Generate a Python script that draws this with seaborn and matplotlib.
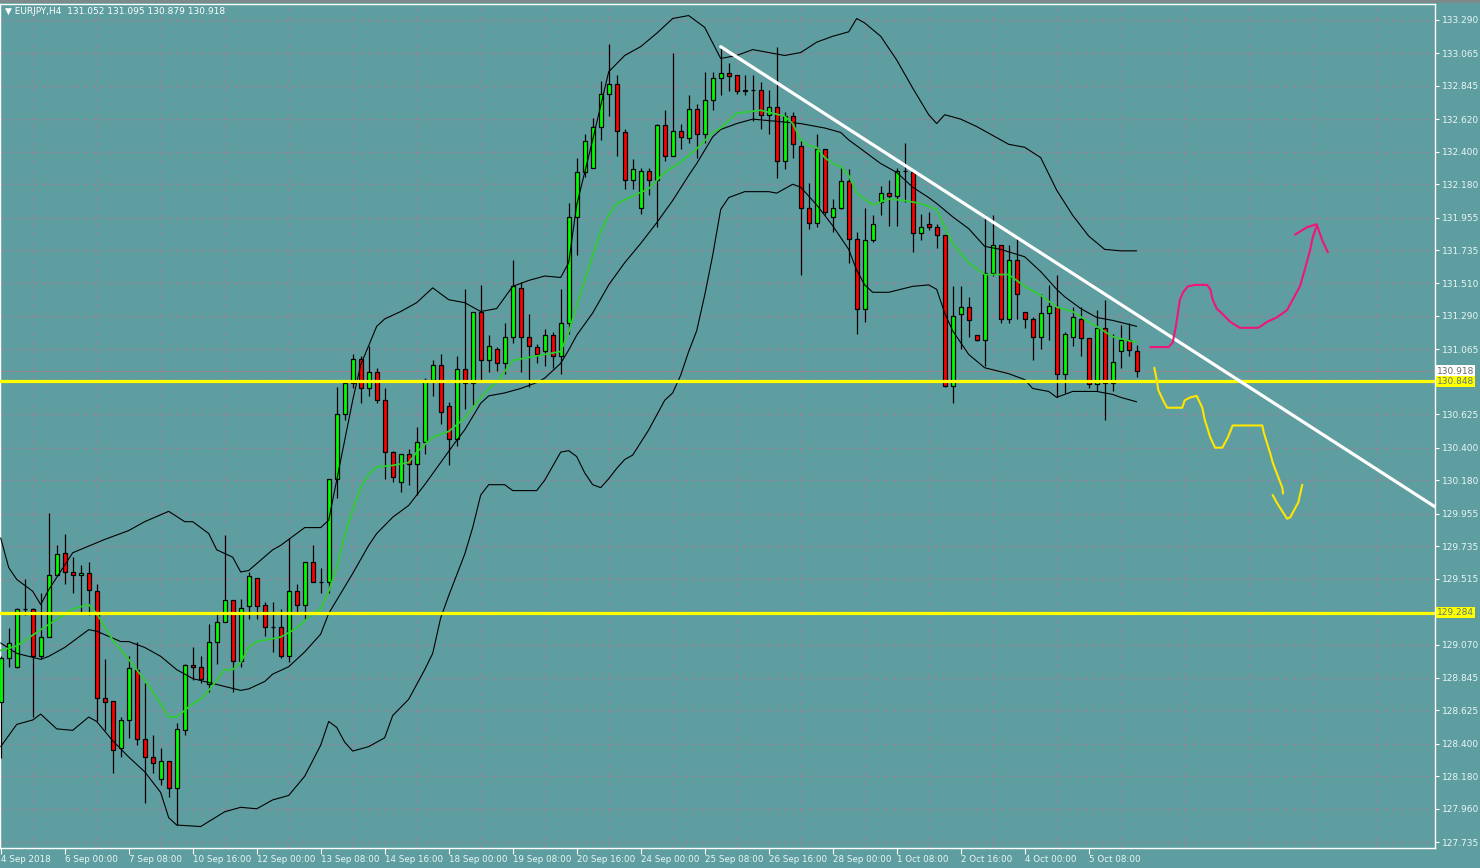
import numpy as np
import pandas as pd
import matplotlib
matplotlib.use("Agg")
import matplotlib.pyplot as plt
import matplotlib.transforms as mtransforms
from matplotlib.patches import Rectangle
import seaborn as sns

# EURJPY H4 candles, bar 0 = 4 Sep 2018 16:00
opens = [128.68, 128.98, 128.92, 129.31, 129.31, 128.99, 129.12, 129.54, 129.69, 129.56,
         129.54, 129.55, 129.43, 128.71, 128.69, 128.37, 128.56, 128.90, 128.43, 128.31,
         128.16, 128.28, 128.10, 128.49, 128.93, 128.92, 128.80, 129.09, 129.22, 129.37,
         128.96, 129.33, 129.52, 129.34, 129.19, 129.19, 128.99, 129.43, 129.34, 129.63,
         129.49, 129.49, 130.19, 130.63, 130.84, 131.00, 130.80, 130.91, 130.72, 130.37,
         130.17, 130.36, 130.29, 130.44, 130.86, 130.96, 130.68, 130.46, 130.93, 130.84,
         131.32, 130.99, 131.07, 130.97, 131.15, 131.48, 131.15, 131.08, 131.05, 131.16,
         131.02, 131.24, 131.96, 132.26, 132.29, 132.57, 132.79, 132.86, 132.53, 132.21,
         132.02, 132.27, 132.21, 132.58, 132.37, 132.54, 132.49, 132.69, 132.52, 132.75,
         132.90, 132.93, 132.92, 132.81, 132.82, 132.82, 132.65, 132.70, 132.34, 132.64,
         132.44, 132.02, 131.92, 132.42, 131.96, 132.02, 132.20, 131.81, 131.34, 131.80,
         132.06, 132.12, 132.10, 132.27, 132.26, 131.85, 131.91, 131.89, 131.84, 130.82,
         131.30, 131.35, 131.16, 131.13, 131.58, 131.77, 131.27, 131.67, 131.32, 131.27,
         131.15, 131.31, 131.35, 130.90, 131.15, 131.27, 131.14, 130.83, 131.21, 130.84,
         131.05, 131.13, 131.052]
highs = [128.99, 129.18, 129.32, 129.51, 129.32, 129.42, 129.96, 129.74, 129.82, 129.66,
         129.61, 129.63, 129.48, 128.97, 128.69, 128.58, 128.99, 129.09, 128.81, 128.46,
         128.37, 128.28, 128.54, 128.94, 129.05, 128.99, 129.21, 129.28, 129.81, 129.37,
         129.38, 129.56, 129.52, 129.36, 129.36, 129.31, 129.79, 129.48, 129.63, 129.74,
         129.59, 130.19, 130.81, 130.84, 131.03, 131.02, 131.09, 130.94, 130.80, 130.38,
         130.36, 130.39, 130.54, 130.87, 130.99, 131.03, 130.71, 131.02, 131.47, 131.32,
         131.50, 131.16, 131.08, 131.24, 131.67, 131.52, 131.30, 131.10, 131.20, 131.18,
         131.47, 132.05, 132.36, 132.52, 132.63, 132.88, 133.13, 132.92, 132.55, 132.35,
         132.29, 132.29, 132.59, 132.68, 133.07, 132.59, 132.78, 132.72, 132.94, 132.94,
         133.11, 133.00, 132.92, 132.92, 132.92, 132.87, 132.82, 133.11, 132.67, 132.67,
         132.48, 132.19, 132.52, 132.42, 132.08, 132.30, 132.28, 131.86, 132.02, 131.97,
         132.17, 132.21, 132.29, 132.46, 132.26, 131.98, 131.99, 131.91, 131.84, 131.49,
         131.49, 131.42, 131.16, 131.97, 131.97, 131.77, 131.77, 131.83, 131.32, 131.28,
         131.44, 131.50, 131.57, 131.18, 131.35, 131.35, 131.14, 131.33, 131.40, 131.17,
         131.23, 131.24, 131.095]
lows = [128.30, 128.92, 128.91, 129.27, 128.58, 128.97, 129.12, 129.54, 129.48, 129.42,
        129.29, 129.27, 128.55, 128.49, 128.20, 128.31, 128.44, 128.39, 128.00, 128.20,
        128.12, 128.04, 127.85, 128.46, 128.83, 128.81, 128.75, 128.94, 129.22, 128.75,
        128.92, 129.24, 129.24, 129.13, 129.02, 128.98, 128.95, 129.29, 129.24, 129.49,
        129.42, 129.42, 130.06, 130.59, 130.80, 130.70, 130.75, 130.70, 130.19, 130.17,
        130.10, 130.15, 130.08, 130.36, 130.75, 130.56, 130.28, 130.41, 130.66, 130.69,
        130.86, 130.91, 130.92, 130.90, 131.11, 130.91, 130.81, 130.97, 130.95, 130.94,
        130.90, 131.17, 131.70, 132.23, 132.29, 132.48, 132.64, 132.37, 132.15, 132.15,
        131.98, 132.11, 131.89, 132.34, 132.37, 132.42, 132.46, 132.36, 132.46, 132.68,
        132.78, 132.81, 132.79, 132.78, 132.61, 132.55, 132.52, 132.22, 132.28, 132.36,
        131.57, 131.88, 131.89, 131.97, 131.86, 132.01, 131.65, 131.17, 131.25, 131.79,
        131.97, 131.90, 131.90, 132.06, 131.72, 131.80, 131.87, 131.75, 130.81, 130.70,
        131.07, 131.15, 131.12, 130.95, 131.56, 131.24, 131.24, 131.27, 131.21, 130.99,
        131.07, 131.13, 130.74, 130.77, 131.09, 131.02, 130.80, 130.78, 130.59, 130.78,
        130.94, 131.02, 130.879]
closes = [128.98, 129.08, 129.31, 129.31, 128.99, 129.12, 129.54, 129.68, 129.56, 129.54,
          129.55, 129.44, 128.71, 128.68, 128.36, 128.56, 128.91, 128.43, 128.31, 128.27,
          128.28, 128.10, 128.50, 128.93, 128.92, 128.84, 129.09, 129.22, 129.37, 128.96,
          129.32, 129.53, 129.33, 129.19, 129.19, 128.99, 129.43, 129.34, 129.63, 129.49,
          129.49, 130.19, 130.63, 130.84, 131.00, 130.80, 130.91, 130.72, 130.37, 130.20,
          130.36, 130.29, 130.44, 130.86, 130.96, 130.64, 130.46, 130.93, 130.84, 131.32,
          130.99, 131.09, 130.97, 131.15, 131.49, 131.15, 131.09, 131.03, 131.16, 131.02,
          131.24, 131.96, 132.26, 132.47, 132.57, 132.79, 132.86, 132.54, 132.21, 132.28,
          132.27, 132.21, 132.58, 132.37, 132.54, 132.50, 132.69, 132.52, 132.75, 132.90,
          132.93, 132.91, 132.81, 132.82, 132.82, 132.65, 132.70, 132.34, 132.64, 132.45,
          132.02, 131.92, 132.42, 131.99, 132.02, 132.20, 131.81, 131.34, 131.80, 131.91,
          132.12, 132.10, 132.27, 132.27, 131.85, 131.89, 131.89, 131.84, 130.82, 131.29,
          131.35, 131.26, 131.13, 131.58, 131.77, 131.27, 131.67, 131.44, 131.27, 131.15,
          131.31, 131.36, 130.90, 131.17, 131.28, 131.14, 130.83, 131.21, 130.84, 130.98,
          131.13, 131.06, 130.918]

# Bollinger bands (outer, middle) and green moving average, read at bar positions
bb_upper_bar = [0, 1, 2, 4, 5, 6, 9, 13, 16, 18, 21, 23, 24, 26, 27, 29, 30, 31, 34, 35,
                38, 40, 41, 42, 43, 44, 45, 46, 47, 48, 50, 52, 54, 56, 58, 60, 62, 64, 66, 68,
                70, 71, 72, 74, 76, 78, 80, 82, 84, 86, 88, 90, 92, 94, 96, 98, 100, 102, 104, 106,
                107, 108, 110, 112, 114, 116, 117, 118, 120, 122, 124, 126, 128, 130, 132, 134, 136, 138, 140, 142]
bb_upper = [129.79, 129.59, 129.51, 129.43, 129.34, 129.44, 129.69, 129.78, 129.84, 129.90,
            129.97, 129.90, 129.90, 129.82, 129.71, 129.66, 129.56, 129.57, 129.71, 129.74,
            129.86, 129.86, 129.91, 130.18, 130.45, 130.72, 130.96, 131.09, 131.22, 131.27,
            131.32, 131.38, 131.48, 131.40, 131.38, 131.32, 131.34, 131.49, 131.53, 131.56,
            131.55, 131.65, 132.04, 132.48, 132.94, 133.05, 133.11, 133.20, 133.30, 133.32,
            133.24, 133.03, 133.05, 133.09, 133.07, 133.05, 133.07, 133.14, 133.18, 133.21,
            133.30, 133.27, 133.18, 133.02, 132.83, 132.65, 132.59, 132.65, 132.62, 132.57,
            132.51, 132.45, 132.43, 132.36, 132.14, 131.97, 131.83, 131.74, 131.73, 131.73]

bb_lower_bar = [0, 2, 4, 5, 7, 9, 11, 12, 14, 16, 18, 20, 21, 22, 25, 28, 30, 32, 34, 36,
                38, 40, 41, 42, 43, 44, 46, 48, 49, 51, 53, 54, 55, 56, 58, 59, 60, 61, 63, 64,
                67, 68, 70, 71, 72, 73, 74, 75, 76, 77, 78, 79, 81, 83, 84, 85, 86, 87, 88, 89,
                90, 91, 93, 96, 97, 99, 100, 101, 102, 104, 106, 107, 108, 109, 111, 114, 116, 117, 118, 119,
                121, 123, 126, 128, 129, 131, 132, 134, 137, 139, 140, 142]
bb_lower = [128.38, 128.53, 128.56, 128.60, 128.50, 128.49, 128.58, 128.55, 128.42, 128.31,
            128.21, 128.07, 127.90, 127.85, 127.84, 127.94, 127.97, 127.96, 128.02, 128.05,
            128.18, 128.39, 128.55, 128.51, 128.41, 128.35, 128.38, 128.44, 128.59, 128.70,
            128.90, 129.01, 129.25, 129.40, 129.68, 129.86, 130.08, 130.15, 130.15, 130.11,
            130.11, 130.18, 130.37, 130.38, 130.34, 130.23, 130.15, 130.13, 130.19, 130.26,
            130.32, 130.35, 130.52, 130.72, 130.77, 130.89, 131.05, 131.19, 131.43, 131.70,
            132.01, 132.09, 132.13, 132.13, 132.12, 132.18, 132.16, 132.10, 132.04, 131.90,
            131.74, 131.60, 131.50, 131.45, 131.45, 131.49, 131.50, 131.47, 131.31, 131.19,
            131.03, 130.94, 130.90, 130.86, 130.80, 130.78, 130.74, 130.78, 130.78, 130.76,
            130.74, 130.71]

bb_mid_bar = [0, 2, 5, 6, 8, 11, 12, 15, 16, 18, 20, 22, 24, 27, 30, 31, 33, 34, 36, 38,
              40, 41, 42, 44, 46, 47, 49, 51, 53, 55, 57, 58, 60, 61, 63, 65, 67, 68, 70, 71,
              72, 74, 76, 78, 80, 82, 84, 86, 87, 89, 90, 92, 94, 96, 98, 100, 103, 105, 106, 108,
              110, 112, 114, 116, 117, 119, 121, 123, 125, 128, 130, 132, 133, 135, 137, 139, 142]
bb_mid = [129.08, 129.01, 128.97, 128.99, 129.05, 129.17, 129.16, 129.09, 129.09, 129.05,
          128.99, 128.90, 128.84, 128.80, 128.76, 128.77, 128.82, 128.87, 128.92, 129.02,
          129.14, 129.28, 129.37, 129.55, 129.74, 129.82, 129.93, 130.01, 130.15, 130.30,
          130.45, 130.52, 130.70, 130.75, 130.77, 130.80, 130.84, 130.87, 130.97, 131.06,
          131.16, 131.31, 131.50, 131.65, 131.78, 131.92, 132.07, 132.24, 132.32, 132.50,
          132.55, 132.59, 132.62, 132.61, 132.60, 132.59, 132.56, 132.53, 132.48, 132.40,
          132.32, 132.26, 132.16, 132.09, 132.05, 131.96, 131.88, 131.76, 131.74, 131.69,
          131.59, 131.47, 131.42, 131.34, 131.28, 131.26, 131.22]

ma_bar = [0, 2, 5, 7, 9, 11, 12, 14, 16, 18, 20, 21, 22, 24, 25, 26, 28, 29, 30, 31,
          32, 34, 35, 37, 39, 40, 41, 42, 43, 44, 45, 46, 47, 49, 51, 52, 54, 56, 58, 59,
          61, 62, 64, 66, 70, 71, 72, 73, 74, 75, 76, 77, 79, 81, 83, 85, 87, 89, 90, 92,
          95, 98, 99, 100, 101, 102, 103, 104, 105, 106, 107, 109, 111, 113, 115, 117, 118, 119, 121, 123,
          126, 128, 130, 132, 134, 136, 137, 139, 142]
ma_green = [129.03, 129.06, 129.17, 129.24, 129.31, 129.34, 129.28, 129.10, 128.97, 128.83,
            128.67, 128.58, 128.58, 128.67, 128.70, 128.76, 128.90, 128.90, 128.95, 129.05,
            129.09, 129.11, 129.12, 129.18, 129.28, 129.31, 129.43, 129.59, 129.81, 129.98,
            130.13, 130.22, 130.27, 130.28, 130.30, 130.37, 130.47, 130.51, 130.60, 130.67,
            130.80, 130.84, 130.99, 131.01, 131.05, 131.18, 131.36, 131.53, 131.70, 131.86,
            131.97, 132.05, 132.10, 132.15, 132.26, 132.33, 132.42, 132.53, 132.56, 132.66,
            132.68, 132.64, 132.59, 132.48, 132.44, 132.43, 132.36, 132.32, 132.30, 132.24,
            132.12, 132.04, 132.08, 132.07, 132.05, 132.01, 131.89, 131.78, 131.65, 131.57,
            131.57, 131.49, 131.43, 131.35, 131.32, 131.25, 131.22, 131.15, 131.11]

# drawn objects
support_levels = [130.848, 129.284]
support_labels = ["130.848", "129.284"]
trend_bar = [90, 179.3]
trend_price = [133.11, 130.00]

pink_bar = [143.7, 146.0, 146.5, 146.9, 147.4, 147.8, 148.4, 149.3, 150.8, 151.2, 151.5, 152.0,
            152.8, 153.7, 154.9, 157.2, 158.3, 159.5, 160.8, 161.5, 162.4, 163.0, 163.7, 164.0, 164.5]
pink_price = [131.08, 131.08, 131.11, 131.22, 131.40, 131.45, 131.49, 131.50, 131.50, 131.47, 131.40, 131.34,
              131.30, 131.25, 131.21, 131.21, 131.25, 131.28, 131.33, 131.40, 131.49, 131.60, 131.74, 131.82, 131.90]
pink_head_bar = [161.8, 163.3, 164.5, 165.2, 165.9]
pink_head_price = [131.84, 131.89, 131.91, 131.80, 131.72]

yellow_bar = [144.2, 144.5, 144.7, 145.3, 145.8, 147.7, 148.0, 148.7, 149.5, 150.2, 150.5, 151.2,
              151.8, 152.7, 153.4, 154.0, 154.5, 157.7, 157.9, 158.7, 159.0, 159.7, 160.2, 160.3]
yellow_price = [130.94, 130.86, 130.79, 130.72, 130.67, 130.67, 130.72, 130.74, 130.75, 130.67, 130.59, 130.47,
                130.40, 130.40, 130.47, 130.55, 130.55, 130.55, 130.50, 130.36, 130.30, 130.20, 130.13, 130.09]
yellow2_bar = [159.0, 159.5, 160.2, 160.8, 161.2, 161.5, 162.2, 162.7]
yellow2_price = [130.08, 130.03, 129.97, 129.92, 129.93, 129.96, 130.03, 130.15]

ytick_labels = ["133.290", "133.065", "132.845", "132.620", "132.400", "132.180", "131.955",
                "131.735", "131.510", "131.290", "131.065", "130.845", "130.625", "130.400",
                "130.180", "129.955", "129.735", "129.515", "129.290", "129.070", "128.845",
                "128.625", "128.400", "128.180", "127.960", "127.735"]
hidden_ticks = ["130.845", "129.290"]
xtick_bars = list(range(0, 137, 8))
xtick_labels = ["4 Sep 2018", "6 Sep 00:00", "7 Sep 08:00", "10 Sep 16:00", "12 Sep 00:00",
                "13 Sep 08:00", "14 Sep 16:00", "18 Sep 00:00", "19 Sep 08:00", "20 Sep 16:00",
                "24 Sep 00:00", "25 Sep 08:00", "26 Sep 16:00", "28 Sep 00:00", "1 Oct 08:00",
                "2 Oct 16:00", "4 Oct 00:00", "5 Oct 08:00"]

bg = "#5f9ea0"
grid_col = "#8a879c"
sns.set_style("ticks", {"axes.facecolor": bg, "figure.facecolor": bg})
plt.rcParams["font.family"] = ["DejaVu Sans"]

fig = plt.figure(figsize=(14.8, 8.68), dpi=100)
ax = fig.add_axes([0, 20 / 868, 1435 / 1480, 844 / 868])
ax.set_facecolor(bg)

ax.set_xlim(-0.0875, 179.29)
ax.set_ylim(127.695, 133.398)
ax.set_xticks(xtick_bars)
ax.set_xticklabels(xtick_labels)
ax.set_yticks([float(t) for t in ytick_labels])
ax.set_yticklabels(["" if t in hidden_ticks else t for t in ytick_labels])
ax.yaxis.tick_right()

# dashed grid: horizontal at price ticks, vertical between date ticks
ax.grid(True, axis="y", color=grid_col, lw=1.0, ls=(0, (3, 3)))
for gx in np.arange(4, 180, 8):
    vl = ax.axvline(gx - 0.09, color=grid_col, lw=1.0, ls=(0, (3, 3)), zorder=1)
    vl.set_snap(True)
    vl.set_antialiased(False)
ax.set_axisbelow(True)

ax.tick_params(axis="x", length=4, width=0.8, color="white", pad=1, bottom=True,
               labelsize=6.3, labelcolor="#eaf6f6", direction="out")
ax.tick_params(axis="y", length=3, width=0.8, color="white", pad=2, right=True,
               labelsize=6.5, labelcolor="#eaf6f6", direction="out")
for lbl in ax.get_xticklabels():
    lbl.set_horizontalalignment("left")
for sp in ax.spines.values():
    sp.set_visible(True)
    sp.set_color("white")
    sp.set_linewidth(1.0)

# candles
df = pd.DataFrame({"open": opens, "high": highs, "low": lows, "close": closes})
df["bar"] = np.arange(len(df))
bull = df["close"] >= df["open"]
ax.vlines(df["bar"], df["low"], df["high"], color="black", lw=0.9, zorder=3)
ax.bar(df["bar"], df["close"] - df["open"], bottom=df["open"], width=0.5,
       color=np.where(bull, "#00ff00", "#ff0000"), edgecolor="black", linewidth=0.9, zorder=4)

# indicators
for xs, ys in [(bb_upper_bar, bb_upper), (bb_lower_bar, bb_lower), (bb_mid_bar, bb_mid)]:
    sns.lineplot(x=xs, y=ys, ax=ax, color="black", lw=0.8, estimator=None, sort=False, zorder=5)
sns.lineplot(x=ma_bar, y=ma_green, ax=ax, color="#32cd32", lw=1.3, estimator=None, sort=False, zorder=5)

# horizontal levels
ax.axhline(closes[-1], color="#8c8c8c", lw=0.8, zorder=2)
for lv in support_levels:
    ax.axhline(lv, color="#ffff00", lw=2.3, zorder=6)

# hand drawn objects
sns.lineplot(x=trend_bar, y=trend_price, ax=ax, color="white", lw=2.3, estimator=None, sort=False, zorder=7)
sns.lineplot(x=pink_bar, y=pink_price, ax=ax, color="#f0157a", lw=1.5, estimator=None, sort=False, zorder=7)
sns.lineplot(x=pink_head_bar, y=pink_head_price, ax=ax, color="#f0157a", lw=1.5, estimator=None, sort=False, zorder=7)
sns.lineplot(x=yellow_bar, y=yellow_price, ax=ax, color="#ffe600", lw=1.5, estimator=None, sort=False, zorder=7)
sns.lineplot(x=yellow2_bar, y=yellow2_price, ax=ax, color="#ffe600", lw=1.5, estimator=None, sort=False, zorder=7)
ax.set_xlabel("")
ax.set_ylabel("")

# price labels on the right scale
trans = mtransforms.blended_transform_factory(ax.transAxes, ax.transData)
ax.text(1.0 + 2 / 1435, closes[-1], f"{closes[-1]:.3f}", transform=trans, ha="left", va="center",
        fontsize=6.5, color="#6a6a6a", clip_on=False, zorder=10,
        bbox=dict(boxstyle="square,pad=0.12", fc="white", ec="none"))
for lv, txt in zip(support_levels, support_labels):
    ax.text(1.0 + 2 / 1435, lv, txt, transform=trans, ha="left", va="center",
            fontsize=6.5, color="#5a7a7a", clip_on=False, zorder=10,
            bbox=dict(boxstyle="square,pad=0.12", fc="#ffff00", ec="none"))

# chart header
fig.text(5 / 1480, 1 - 11 / 868, "▼ EURJPY,H4  131.052 131.095 130.879 130.918",
         color="white", fontsize=6.5, va="center", ha="left")
fig.add_artist(Rectangle((0, 1 - 3 / 868), 1, 3 / 868, transform=fig.transFigure,
                         color="#7d8a8b", lw=0))

fig.savefig("out.png", dpi=100, facecolor=bg)
